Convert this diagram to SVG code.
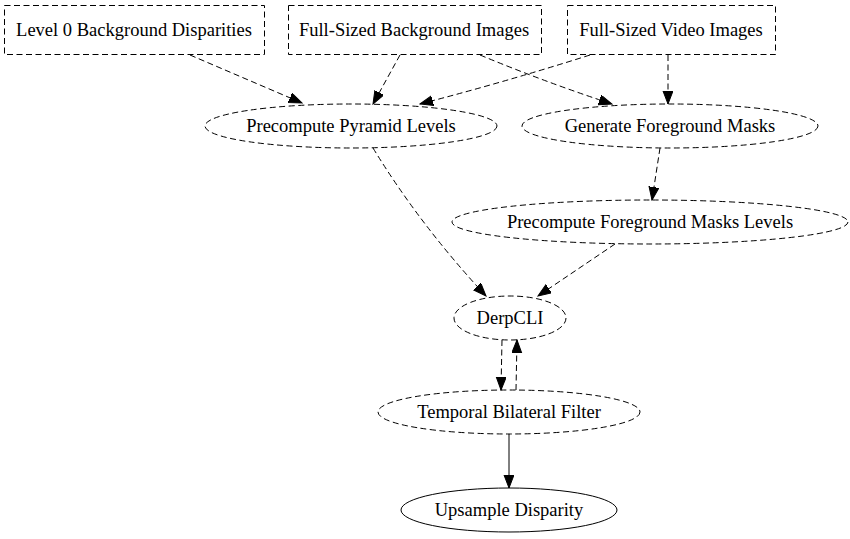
<svg xmlns="http://www.w3.org/2000/svg" width="850" height="539" viewBox="0 0 850 539">
<defs>
<style>
.n{fill:none;stroke:#000;stroke-width:1;stroke-dasharray:6,3.5}
.s{fill:none;stroke:#000;stroke-width:1}
.t{font-family:"Liberation Serif","Times New Roman",serif;font-size:18.5px;fill:#000;text-anchor:middle;dominant-baseline:central}
.e{fill:none;stroke:#000;stroke-width:1;stroke-dasharray:6,3.5;marker-end:url(#ah)}
.es{fill:none;stroke:#000;stroke-width:1;marker-end:url(#ah)}
</style>
<marker id="ah" markerUnits="userSpaceOnUse" markerWidth="14" markerHeight="11" refX="13" refY="5" orient="auto" viewBox="0 0 14 11">
<path d="M0,0 L13,5 L0,10 z" fill="#000" stroke="#000" stroke-width="1"/>
</marker>
</defs>
<rect width="850" height="539" fill="#fff"/>
<g id="edges">
<path class="e" d="M190,55 L302,103"/>
<path class="e" d="M400,55 L373,104"/>
<path class="e" d="M590,55 Q505,82 420,104"/>
<path class="e" d="M480,55 Q545,82 612,104"/>
<path class="e" d="M668,55 L668,104"/>
<path class="e" d="M660,148 L652,200"/>
<path class="e" d="M373,148 Q420,225 486,296"/>
<path class="e" d="M615,244 L538,296"/>
<path class="e" d="M502,340 L501,390"/>
<path class="e" d="M516,390 L517,340"/>
<path class="es" d="M509,434 L509,488"/>
</g>
<g id="n1"><rect class="n" x="4.5" y="5.5" width="260" height="49"/><text class="t" x="134" y="30">Level 0 Background Disparities</text></g>
<g id="n2"><rect class="n" x="288.5" y="5.5" width="253" height="49"/><text class="t" x="414" y="30">Full-Sized Background Images</text></g>
<g id="n3"><rect class="n" x="567.5" y="5.5" width="208" height="49"/><text class="t" x="671" y="30">Full-Sized Video Images</text></g>
<g id="n4"><ellipse class="n" cx="351" cy="126" rx="146" ry="22"/><text class="t" x="351" y="126">Precompute Pyramid Levels</text></g>
<g id="n5"><ellipse class="n" cx="670" cy="126" rx="148" ry="22"/><text class="t" x="670" y="126">Generate Foreground Masks</text></g>
<g id="n6"><ellipse class="n" cx="650" cy="222" rx="198" ry="22"/><text class="t" x="650" y="222">Precompute Foreground Masks Levels</text></g>
<g id="n7"><ellipse class="n" cx="510" cy="318" rx="56" ry="22"/><text class="t" x="510" y="318">DerpCLI</text></g>
<g id="n8"><ellipse class="n" cx="509" cy="412" rx="131" ry="22"/><text class="t" x="509" y="412">Temporal Bilateral Filter</text></g>
<g id="n9"><ellipse class="s" cx="509" cy="510" rx="108" ry="22"/><text class="t" x="509" y="510">Upsample Disparity</text></g>
</svg>
